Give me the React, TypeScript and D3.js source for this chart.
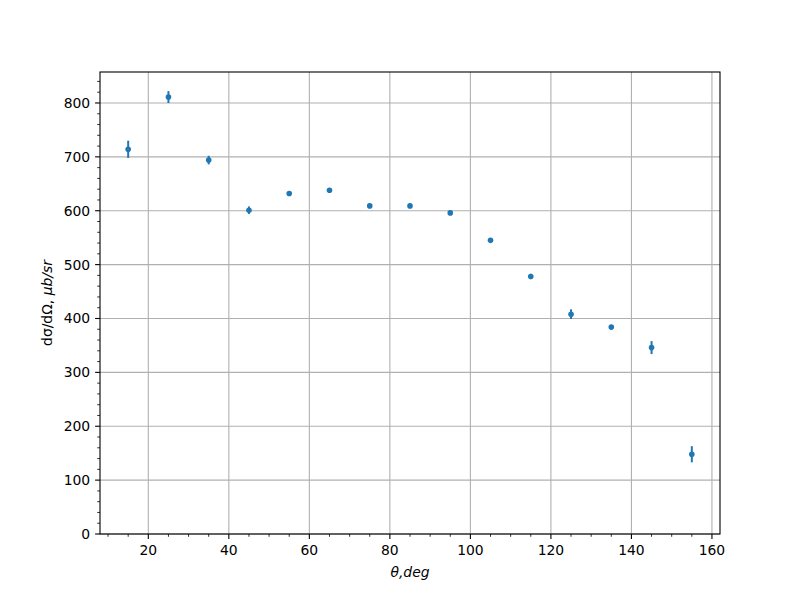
import React from "react";
import * as d3 from "d3";

const angles = [15, 25, 35, 45, 55, 65, 75, 85, 95, 105, 115, 125, 135, 145, 155];
const values = [714, 811, 694, 601, 632, 638, 609, 609, 596, 545, 478, 408, 384, 346, 148];
const errors = [16, 11, 8, 7, 4, 4, 4, 4, 4, 4, 5, 9, 4, 12, 15];
const xTicks = [20, 40, 60, 80, 100, 120, 140, 160];
const yTicks = [0, 100, 200, 300, 400, 500, 600, 700, 800];

const W = 800, H = 600;
const L = 100, R = 720, T = 72, B = 534;
const COLOR = "#1f77b4";
const FONT = "DejaVu Sans, sans-serif";

export default function App() {
  const x = d3.scaleLinear().domain([8, 162]).range([L, R]);
  const y = d3.scaleLinear().domain([0, 857.5]).range([B, T]);
  const xMinor = d3.range(10, 162, 5).filter((v) => v % 20 !== 0);
  const yMinor = d3.range(0, 857, 20).filter((v) => v % 100 !== 0);
  return (
    <svg width={W} height={H} style={{ position: "absolute", left: 0, top: 0, background: "#fff" }} fontFamily={FONT}>
      <rect x={0} y={0} width={W} height={H} fill="#fff" />
      {xTicks.map((t) => (
        <line key={"gx" + t} x1={x(t)} x2={x(t)} y1={T} y2={B} stroke="#b0b0b0" strokeWidth={1.1} />
      ))}
      {yTicks.map((t) => (
        <line key={"gy" + t} x1={L} x2={R} y1={y(t)} y2={y(t)} stroke="#b0b0b0" strokeWidth={1.1} />
      ))}
      {angles.map((a, i) => (
        <g key={"p" + i}>
          <line x1={x(a)} x2={x(a)} y1={y(values[i] - errors[i])} y2={y(values[i] + errors[i])} stroke={COLOR} strokeWidth={2} />
          <circle cx={x(a)} cy={y(values[i])} r={2.8} fill={COLOR} />
        </g>
      ))}
      <rect x={L} y={T} width={R - L} height={B - T} fill="none" stroke="#000" strokeWidth={1.1} />
      {xTicks.map((t) => (
        <g key={"xt" + t}>
          <line x1={x(t)} x2={x(t)} y1={B} y2={B + 4.9} stroke="#000" strokeWidth={1.1} />
          <text x={x(t)} y={B + 20.5} textAnchor="middle" fontSize={13.9} fill="#000">{t}</text>
        </g>
      ))}
      {xMinor.map((t) => (
        <line key={"xm" + t} x1={x(t)} x2={x(t)} y1={B} y2={B + 2.8} stroke="#000" strokeWidth={0.8} />
      ))}
      {yTicks.map((t) => (
        <g key={"yt" + t}>
          <line x1={L - 4.9} x2={L} y1={y(t)} y2={y(t)} stroke="#000" strokeWidth={1.1} />
          <text x={L - 9.8} y={y(t)} dy="0.36em" textAnchor="end" fontSize={13.9} fill="#000">{t}</text>
        </g>
      ))}
      {yMinor.map((t) => (
        <line key={"ym" + t} x1={L - 2.8} x2={L} y1={y(t)} y2={y(t)} stroke="#000" strokeWidth={0.8} />
      ))}
      <text x={(L + R) / 2} y={577} textAnchor="middle" fontSize={13.9} fill="#000" fontStyle="italic">θ,deg</text>
      <text transform={`translate(52, ${(T + B) / 2}) rotate(-90)`} textAnchor="middle" fontSize={13.9} fill="#000">
        <tspan>dσ/dΩ, </tspan>
        <tspan fontStyle="italic">μb/sr</tspan>
      </text>
    </svg>
  );
}
